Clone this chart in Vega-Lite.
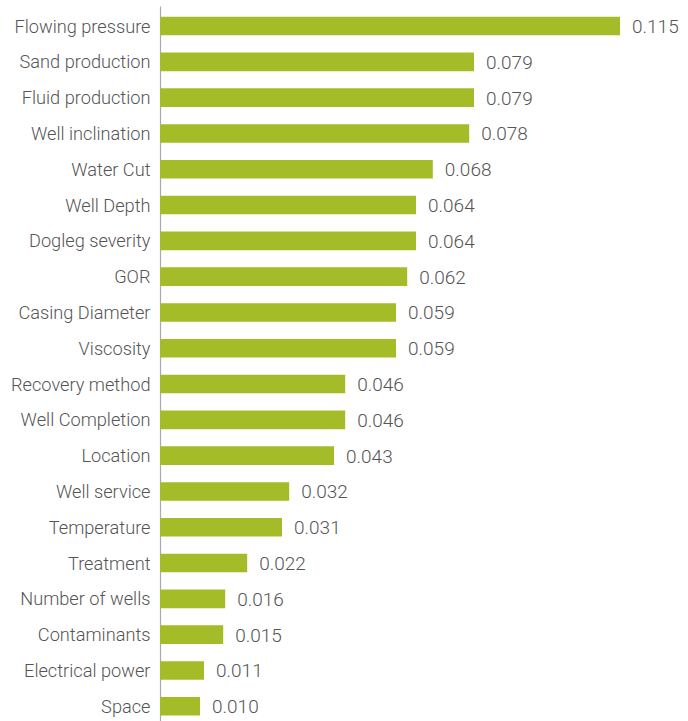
{
  "$schema": "https://vega.github.io/schema/vega-lite/v6.json",
  "width": 520,
  "height": {"step": 35.8},
  "padding": {"left": 0, "top": 6, "right": 0, "bottom": 0},
  "background": "white",
  "config": {"view": {"stroke": null}},
  "data": {
    "values": [
      {"factor": "Flowing pressure", "weight": 0.115, "label": "0.115"},
      {"factor": "Sand production", "weight": 0.0785, "label": "0.079"},
      {"factor": "Fluid production", "weight": 0.0785, "label": "0.079"},
      {"factor": "Well inclination", "weight": 0.0773, "label": "0.078"},
      {"factor": "Water Cut", "weight": 0.0682, "label": "0.068"},
      {"factor": "Well Depth", "weight": 0.064, "label": "0.064"},
      {"factor": "Dogleg severity", "weight": 0.064, "label": "0.064"},
      {"factor": "GOR", "weight": 0.0618, "label": "0.062"},
      {"factor": "Casing Diameter", "weight": 0.059, "label": "0.059"},
      {"factor": "Viscosity", "weight": 0.059, "label": "0.059"},
      {"factor": "Recovery method", "weight": 0.0463, "label": "0.046"},
      {"factor": "Well Completion", "weight": 0.0463, "label": "0.046"},
      {"factor": "Location", "weight": 0.0435, "label": "0.043"},
      {"factor": "Well service", "weight": 0.0323, "label": "0.032"},
      {"factor": "Temperature", "weight": 0.0305, "label": "0.031"},
      {"factor": "Treatment", "weight": 0.0218, "label": "0.022"},
      {"factor": "Number of wells", "weight": 0.0163, "label": "0.016"},
      {"factor": "Contaminants", "weight": 0.0158, "label": "0.015"},
      {"factor": "Electrical power", "weight": 0.011, "label": "0.011"},
      {"factor": "Space", "weight": 0.010, "label": "0.010"}
    ]
  },
  "encoding": {
    "y": {
      "field": "factor",
      "type": "nominal",
      "sort": null,
      "scale": {"paddingInner": 0.48, "paddingOuter": 0.3},
      "axis": {
        "title": null,
        "ticks": false,
        "labelPadding": 10,
        "labelOffset": 1.5,
        "labelFont": "Roboto",
        "labelFontWeight": 300,
        "labelFontSize": 18.2,
        "labelColor": "#555555",
        "domainColor": "#aaaaaa",
        "domainWidth": 1.2,
        "minExtent": 160,
        "maxExtent": 160,
        "labelLimit": 200
      }
    },
    "x": {
      "field": "weight",
      "type": "quantitative",
      "scale": {"domain": [0, 0.13], "nice": false},
      "axis": null
    }
  },
  "layer": [
    {"mark": {"type": "bar", "color": "#a4bc28"}},
    {
      "mark": {
        "type": "text",
        "align": "left",
        "baseline": "middle",
        "dx": 12,
        "dy": 1,
        "font": "Roboto",
        "fontWeight": 300,
        "fontSize": 19,
        "color": "#555555"
      },
      "encoding": {"text": {"field": "label", "type": "nominal"}}
    }
  ]
}
